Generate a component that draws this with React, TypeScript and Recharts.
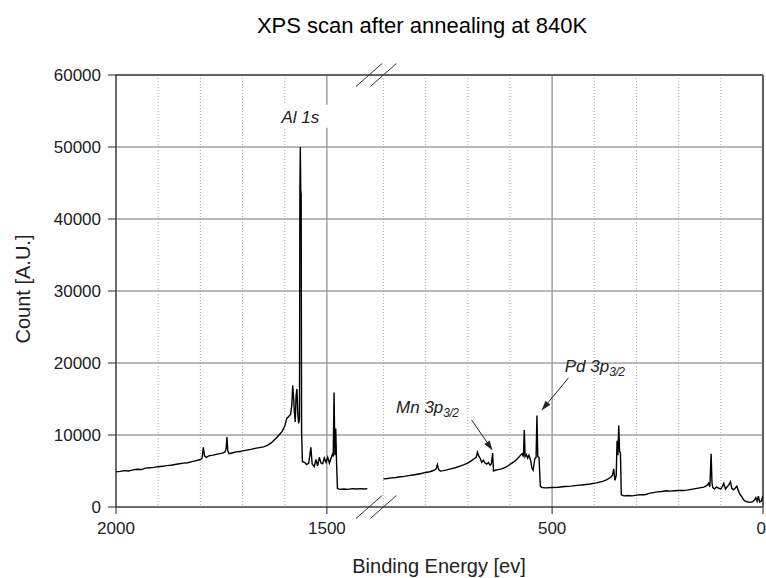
import React from 'react';
import { LineChart, Line, XAxis, YAxis, CartesianGrid, ReferenceLine, ReferenceDot } from 'recharts';

// [binding energy (eV), count] — high-energy part of the scan (left of the axis break)
const highEnergyScan: [number, number][] = [
  [2000, 4900], [1990, 4950], [1980, 5050], [1970, 5000], [1960, 5150], [1950, 5250], [1940, 5200],
  [1930, 5400], [1920, 5450], [1910, 5500], [1900, 5600], [1890, 5650], [1880, 5750], [1870, 5800],
  [1860, 5900], [1850, 6000], [1840, 6100], [1830, 6150], [1820, 6300], [1810, 6450], [1800, 6600],
  [1796, 6750], [1793, 8300], [1790, 7100], [1786, 6900], [1780, 7100], [1770, 7200], [1760, 7350],
  [1750, 7450], [1742, 7600], [1739, 8000], [1737, 9700], [1735, 7800], [1732, 7400], [1725, 7500],
  [1715, 7650], [1705, 7700], [1700, 7800], [1690, 7900], [1680, 8000], [1670, 8150], [1660, 8250],
  [1650, 8350], [1640, 8600], [1632, 8900], [1625, 9300], [1618, 9700], [1612, 10100], [1606, 10500],
  [1600, 11200], [1595, 12300], [1590, 12600], [1586, 12900], [1583, 14200], [1581, 16900],
  [1579, 15200], [1577, 13200], [1575, 11800], [1573, 15500], [1571, 16400], [1569, 13000],
  [1567, 11600], [1565, 12200], [1564, 44000], [1563, 50000], [1562, 44000], [1561, 43500],
  [1560, 10500], [1558, 6300], [1553, 6200], [1548, 5900], [1543, 6100], [1538, 8300], [1535, 6000],
  [1530, 5600], [1526, 6600], [1522, 5700], [1518, 6900], [1514, 6100], [1510, 6000], [1506, 6800],
  [1502, 6200], [1498, 6900], [1494, 6100], [1490, 6800], [1487, 7300], [1485, 7000], [1483, 15900],
  [1481, 7200], [1479, 10900], [1477, 6000], [1475, 2600], [1470, 2450], [1460, 2500], [1450, 2450],
  [1440, 2550], [1430, 2500], [1420, 2550], [1410, 2500], [1404, 2550],
];

// [binding energy (eV), count] — low-energy part of the scan (right of the axis break)
const lowEnergyScan: [number, number][] = [
  [900, 3900], [890, 3950], [880, 4050], [870, 4100], [860, 4200], [850, 4250], [840, 4350],
  [830, 4450], [820, 4550], [810, 4650], [800, 4800], [790, 4900], [780, 5100], [775, 5300],
  [772, 5900], [769, 5200], [765, 5000], [758, 5050], [750, 5150], [740, 5300], [730, 5450],
  [720, 5650], [710, 5850], [700, 6100], [692, 6400], [685, 6700], [680, 6900], [677, 7600],
  [674, 7100], [670, 6700], [667, 6200], [663, 6500], [659, 6100], [655, 5950], [651, 6200],
  [647, 5800], [644, 6000], [641, 7500], [639, 5000], [635, 5100], [628, 5200], [620, 5300],
  [613, 5450], [605, 5700], [598, 6000], [590, 6300], [584, 6600], [579, 6900], [575, 7200],
  [571, 7400], [568, 7000], [566, 10700], [564, 7000], [561, 7300], [558, 6800], [555, 7200],
  [551, 6500], [548, 5400], [545, 5100], [541, 6700], [538, 6900], [536, 12700], [534, 7000],
  [531, 6900], [528, 2900], [524, 2700], [515, 2650], [500, 2700], [485, 2750], [470, 2850],
  [455, 2900], [440, 3000], [425, 3100], [410, 3200], [395, 3350], [380, 3550], [370, 3800],
  [362, 4100], [357, 4400], [354, 5300], [351, 3700], [348, 4400], [346, 9200], [344, 7200],
  [342, 11300], [340, 7700], [338, 7500], [336, 1700], [330, 1550], [320, 1600], [310, 1550],
  [300, 1650], [290, 1700], [280, 1700], [270, 1900], [260, 2000], [250, 2100], [240, 2150],
  [230, 2250], [220, 2200], [210, 2250], [200, 2300], [190, 2300], [180, 2350], [170, 2450],
  [160, 2550], [150, 2650], [140, 2750], [133, 3000], [129, 3300], [126, 2800], [123, 7400],
  [121, 3400], [119, 2700], [115, 2500], [110, 2800], [105, 2600], [100, 2500], [96, 2900],
  [93, 3300], [89, 2500], [85, 2800], [81, 3100], [77, 3500], [74, 2600], [70, 2400], [66, 2600],
  [62, 2900], [58, 2200], [54, 1700], [50, 1400], [46, 1000], [42, 800], [36, 700], [30, 650],
  [24, 750], [20, 1000], [17, 1300], [14, 800], [11, 1500], [8, 700], [4, 800], [1, 1400], [0, 1300],
];

const xTickLabels = [2000, 1500, 500, 0];
const xMinorGrid = [1900, 1800, 1700, 1600, 1400, 900, 800, 700, 600, 400, 300, 200, 100];
const yTicks = [0, 10000, 20000, 30000, 40000, 50000, 60000];

// axis break: 2000..1400 eV, small gap, 900..0 eV
const BREAK_HIGH = 1400;
const BREAK_LOW = 900;
const GAP = 34;
const toPos = (ev: number) =>
  ev >= BREAK_HIGH ? 2000 - ev : (2000 - BREAK_HIGH) + GAP + (BREAK_LOW - ev);
const fromPos = (p: number) =>
  p <= 2000 - BREAK_HIGH ? 2000 - p : BREAK_LOW - (p - (2000 - BREAK_HIGH) - GAP);
const X_MAX = toPos(0);

const chartData = [
  ...highEnergyScan.map(([ev, c]) => ({ pos: toPos(ev), count: c })),
  { pos: (toPos(BREAK_HIGH) + toPos(BREAK_LOW)) / 2, count: null },
  ...lowEnergyScan.map(([ev, c]) => ({ pos: toPos(ev), count: c })),
];

const FONT = '"Liberation Sans", Arial, sans-serif';

const XTick = (props: any) => {
  const { x, y, payload } = props;
  const isLast = Math.abs(payload.value - X_MAX) < 0.5;
  return (
    <text
      x={isLast ? x + 3 : x}
      y={y}
      dy="0.71em"
      textAnchor={isLast ? 'end' : 'middle'}
      fontFamily={FONT}
      fontSize={17}
      fill="#222"
    >
      {String(Math.round(fromPos(payload.value)))}
    </text>
  );
};

const Arrow = (props: any) => {
  const { x1, y1, x2, y2 } = props;
  const a = Math.atan2(y2 - y1, x2 - x1);
  const L = 10;
  const W = 3.2;
  const bx = x2 - L * Math.cos(a);
  const by = y2 - L * Math.sin(a);
  const p1x = bx + W * Math.sin(a);
  const p1y = by - W * Math.cos(a);
  const p2x = bx - W * Math.sin(a);
  const p2y = by + W * Math.cos(a);
  return (
    <g>
      <line x1={x1} y1={y1} x2={bx} y2={by} stroke="#222" strokeWidth={1} />
      <polygon points={`${x2},${y2} ${p1x},${p1y} ${p2x},${p2y}`} fill="#222" />
    </g>
  );
};

const SlashLine = (props: any) => {
  const { x1, y1, x2, y2 } = props;
  return <line x1={x1} y1={y1} x2={x2} y2={y2} stroke="#333" strokeWidth={1} />;
};

const SubLabel = (main: string, sub: string) => (props: any) => {
  const { cx, cy } = props;
  return (
    <text x={cx} y={cy} fontFamily={FONT} fontStyle="italic" fontSize={17} fill="#222" textAnchor="start">
      {main}
      <tspan fontSize={12} dy={4} letterSpacing={-0.5}>{sub}</tspan>
    </text>
  );
};

const AlLabel = (props: any) => {
  const { cx, cy } = props;
  return (
    <g>
      <rect x={cx - 28} y={cy - 12} width={57} height={23} fill="#fff" />
      <text x={cx} y={cy + 6} fontFamily={FONT} fontStyle="italic" fontSize={17} fill="#222" textAnchor="middle">
        Al 1s
      </text>
    </g>
  );
};

const breakSlashes = [BREAK_HIGH, BREAK_LOW].flatMap((ev) => [
  { key: `t${ev}`, seg: [{ x: toPos(ev) - 31, y: 60000 - 1600 }, { x: toPos(ev) + 31, y: 60000 + 1600 }] },
  { key: `b${ev}`, seg: [{ x: toPos(ev) - 31, y: -1600 }, { x: toPos(ev) + 31, y: 1600 }] },
]);

export default function App() {
  return (
    <div style={{ position: 'absolute', left: 0, top: 0, width: 766, height: 578, background: '#fff', fontFamily: FONT }}>
      <div style={{ position: 'absolute', left: 122, top: 13, width: 600, textAlign: 'center', fontSize: 22, color: '#000', lineHeight: '26px' }}>
        XPS scan after annealing at 840K
      </div>
      <div style={{ position: 'absolute', left: 239, top: 554, width: 400, textAlign: 'center', fontSize: 20, color: '#222', lineHeight: '24px' }}>
        Binding Energy [ev]
      </div>
      <div style={{ position: 'absolute', left: 23 - 100, top: 289 - 12, width: 200, height: 24, textAlign: 'center', fontSize: 20, color: '#222', lineHeight: '24px', transform: 'rotate(-90deg)', transformOrigin: '50% 50%' }}>
        Count [A.U.]
      </div>
      <LineChart width={766} height={578} data={chartData} margin={{ top: 75, right: 3, bottom: 41, left: 36 }}>
        <CartesianGrid xAxisId="minor" horizontal={false} stroke="#aaa" strokeDasharray="1 2" />
        <CartesianGrid stroke="#a0a0a0" strokeWidth={1.5} />
        <XAxis
          dataKey="pos"
          type="number"
          domain={[0, X_MAX]}
          ticks={xTickLabels.map(toPos)}
          tickSize={7}
          tickMargin={8}
          height={30}
          stroke="#222"
          tick={XTick}
          interval={0}
          allowDataOverflow
        />
        <XAxis
          xAxisId="minor"
          dataKey="pos"
          type="number"
          domain={[0, X_MAX]}
          ticks={xMinorGrid.map(toPos)}
          hide
          allowDataOverflow
        />
        <YAxis
          type="number"
          domain={[0, 60000]}
          ticks={yTicks}
          tickSize={8}
          tickMargin={7}
          width={80}
          stroke="#222"
          tick={{ fill: '#222', fontSize: 17, fontFamily: FONT }}
          interval={0}
          allowDataOverflow
        />
        <ReferenceLine y={60000} stroke="#444" strokeWidth={1.5} />
        <ReferenceLine x={X_MAX} stroke="#444" strokeWidth={1.5} />
        <Line
          type="linear"
          dataKey="count"
          stroke="#000"
          strokeWidth={1.4}
          dot={false}
          connectNulls={false}
          isAnimationActive={false}
        />
        {breakSlashes.map((s) => (
          <ReferenceLine key={s.key} segment={s.seg} ifOverflow="visible" shape={SlashLine} />
        ))}
        <ReferenceLine
          segment={[{ x: toPos(691), y: 12100 }, { x: toPos(641), y: 7850 }]}
          ifOverflow="visible"
          shape={Arrow}
        />
        <ReferenceLine
          segment={[{ x: toPos(461), y: 17950 }, { x: toPos(525), y: 13400 }]}
          ifOverflow="visible"
          shape={Arrow}
        />
        <ReferenceDot x={toPos(1563)} y={54200} r={0} ifOverflow="visible" shape={AlLabel} />
        <ReferenceDot x={toPos(870)} y={13100} r={0} ifOverflow="visible" shape={SubLabel('Mn 3p', '3/2')} />
        <ReferenceDot x={toPos(470)} y={18700} r={0} ifOverflow="visible" shape={SubLabel('Pd 3p', '3/2')} />
      </LineChart>
    </div>
  );
}
